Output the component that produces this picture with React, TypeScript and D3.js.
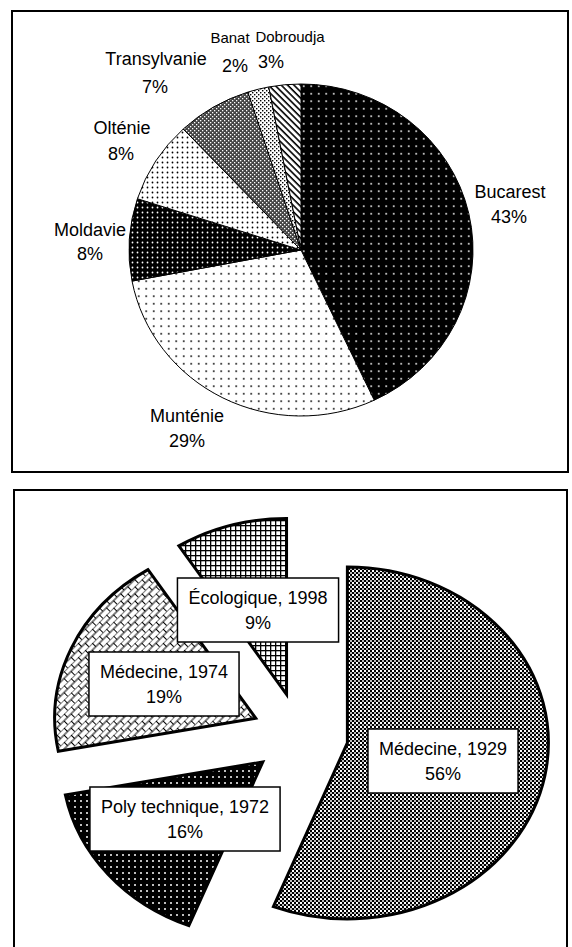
import React, { useRef, useEffect } from "react";
import * as d3 from "d3";

// top chart: regions
const regions = ["Bucarest", "Munténie", "Moldavie", "Olténie", "Transylvanie", "Banat", "Dobroudja"];
const regionShares = [43, 29, 8, 8, 7, 2, 3];
const regionFills = ["dotsBlack", "dotsWhite", "denseBlack", "denseWhite", "darkGrid", "lightGrid", "stripes"];

// bottom chart: faculties
const faculties = ["Médecine, 1929", "Poly technique, 1972", "Médecine, 1974", "Écologique, 1998"];
const facultyShares = [56, 16, 19, 9];
const facultyFills = ["checker", "dotsPoly", "brick", "grid"];

// label centres (layout only)
const regionLabelPos = [[510, 192], [187, 416], [90, 230], [122, 128], [156, 59], [230, 38], [290, 37]];
const regionPctPos = [[509, 217], [187, 441], [90, 254], [121, 154], [155, 87], [235, 66], [271, 62]];
const regionLabelSize = [18, 18, 18, 18, 18, 15, 15];
const facultyLabelPos = [[443, 761], [185, 819], [164, 684], [258, 610]];

const FONT = "'Liberation Sans', Arial, sans-serif";

function slicePath(cx: number, cy: number, rx: number, ry: number, a0: number, a1: number) {
  const pt = (a: number) => [cx + rx * Math.sin(a), cy - ry * Math.cos(a)];
  const [x0, y0] = pt(a0);
  const [x1, y1] = pt(a1);
  const large = a1 - a0 > Math.PI ? 1 : 0;
  return `M${cx},${cy}L${x0},${y0}A${rx},${ry} 0 ${large} 1 ${x1},${y1}Z`;
}

export default function App() {
  const ref = useRef<SVGSVGElement>(null);

  useEffect(() => {
    if (!ref.current) return;
    const svg = d3.select(ref.current);
    svg.selectAll("*").remove();

    // patterns
    const defs = svg.append("defs");
    const pat = (id: string, w: number, h: number, bg: string) => {
      const p = defs.append("pattern").attr("id", id).attr("patternUnits", "userSpaceOnUse")
        .attr("width", w).attr("height", h);
      p.append("rect").attr("width", w).attr("height", h).attr("fill", bg);
      return p;
    };
    let p = pat("dotsBlack", 7.5, 7.5, "#000");
    p.append("circle").attr("cx", 3.75).attr("cy", 3.75).attr("r", 0.9).attr("fill", "#fff");
    p = pat("dotsWhite", 7.5, 7.5, "#fff");
    p.append("circle").attr("cx", 3.75).attr("cy", 3.75).attr("r", 0.9).attr("fill", "#000");
    p = pat("denseBlack", 5, 5, "#000");
    p.append("circle").attr("cx", 2.5).attr("cy", 2.5).attr("r", 0.9).attr("fill", "#fff");
    p = pat("denseWhite", 5, 5, "#fff");
    p.append("circle").attr("cx", 2.5).attr("cy", 2.5).attr("r", 0.9).attr("fill", "#000");
    p = pat("darkGrid", 4, 4, "#444");
    p.append("rect").attr("x", 0).attr("y", 0).attr("width", 1.3).attr("height", 1.3).attr("fill", "#fff");
    p.append("rect").attr("x", 2).attr("y", 2).attr("width", 1.3).attr("height", 1.3).attr("fill", "#fff");
    p = pat("lightGrid", 4, 4, "#fff");
    p.append("rect").attr("x", 0).attr("y", 0).attr("width", 1.4).attr("height", 1.4).attr("fill", "#000");
    p.append("rect").attr("x", 2).attr("y", 2).attr("width", 1.4).attr("height", 1.4).attr("fill", "#000");
    p = pat("stripes", 4.5, 4.5, "#fff").attr("patternTransform", "rotate(45)");
    p.append("rect").attr("width", 4.5).attr("height", 1.6).attr("fill", "#000");

    p = pat("checker", 4, 4, "#fff");
    p.append("rect").attr("width", 2).attr("height", 2).attr("fill", "#000");
    p.append("rect").attr("x", 2).attr("y", 2).attr("width", 2).attr("height", 2).attr("fill", "#000");
    p.append("rect").attr("x", 2).attr("y", 0).attr("width", 2).attr("height", 2).attr("fill", "#bbb");
    p = pat("dotsPoly", 6, 6, "#000");
    p.append("circle").attr("cx", 3).attr("cy", 3).attr("r", 1).attr("fill", "#fff");
    p = pat("grid", 5, 5, "#fff");
    p.append("rect").attr("width", 5).attr("height", 1.3).attr("fill", "#000");
    p.append("rect").attr("width", 1.3).attr("height", 5).attr("fill", "#000");
    p = pat("brick", 10, 10, "#fff").attr("patternTransform", "rotate(-45)");
    p.append("path").attr("d", "M0,0H10M0,5H10M0.5,0V5M5.5,5V10").attr("stroke", "#000").attr("stroke-width", 1).attr("fill", "none");

    // frames
    svg.append("rect").attr("x", 12).attr("y", 11).attr("width", 556).attr("height", 461)
      .attr("fill", "none").attr("stroke", "#000").attr("stroke-width", 2);
    svg.append("rect").attr("x", 14).attr("y", 490).attr("width", 553).attr("height", 470)
      .attr("fill", "none").attr("stroke", "#000").attr("stroke-width", 2);

    const pie = d3.pie<number>().sort(null).value((d) => d);

    // top pie
    const top = { cx: 301, cy: 250, rx: 172, ry: 166 };
    const arcsTop = pie(regionShares);
    svg.append("g").selectAll("path").data(arcsTop).join("path")
      .attr("d", (d) => slicePath(top.cx, top.cy, top.rx, top.ry, d.startAngle, d.endAngle))
      .attr("fill", (d, i) => `url(#${regionFills[i]})`)
      .attr("stroke", "#000").attr("stroke-width", 1).attr("stroke-linejoin", "round");

    const tl = svg.append("g").attr("font-family", FONT).attr("text-anchor", "middle").attr("fill", "#000");
    regions.forEach((name, i) => {
      tl.append("text").attr("x", regionLabelPos[i][0]).attr("y", regionLabelPos[i][1])
        .attr("dy", "0.36em").attr("font-size", regionLabelSize[i]).text(name);
      tl.append("text").attr("x", regionPctPos[i][0]).attr("y", regionPctPos[i][1])
        .attr("dy", "0.36em").attr("font-size", 18).text(`${regionShares[i]}%`);
    });

    // bottom exploded pie
    const bot = { cx: 300, cy: 735, rx: 201, ry: 176, explode: 0.24 };
    const arcsBot = pie(facultyShares);
    svg.append("g").selectAll("path").data(arcsBot).join("path")
      .attr("d", (d) => {
        const mid = (d.startAngle + d.endAngle) / 2;
        const ox = bot.cx + bot.explode * bot.rx * Math.sin(mid);
        const oy = bot.cy - bot.explode * bot.ry * Math.cos(mid);
        return slicePath(ox, oy, bot.rx, bot.ry, d.startAngle, d.endAngle);
      })
      .attr("fill", (d, i) => `url(#${facultyFills[i]})`)
      .attr("stroke", "#000").attr("stroke-width", 3).attr("stroke-linejoin", "miter");

    const bl = svg.append("g").attr("font-family", FONT).attr("font-size", 18).attr("text-anchor", "middle");
    faculties.forEach((name, i) => {
      const [x, y] = facultyLabelPos[i];
      const g = bl.append("g");
      const rect = g.append("rect").attr("fill", "#fff").attr("stroke", "#000").attr("stroke-width", 1.5);
      const t1 = g.append("text").attr("x", x).attr("y", y - 12).attr("dy", "0.36em").text(name);
      g.append("text").attr("x", x).attr("y", y + 13).attr("dy", "0.36em").text(`${facultyShares[i]}%`);
      const w = (t1.node() as SVGTextElement).getComputedTextLength() + 22;
      rect.attr("x", x - w / 2).attr("y", y - 32).attr("width", w).attr("height", 64);
    });
  }, []);

  return (
    <svg ref={ref} width={572} height={947}
      style={{ position: "absolute", left: 0, top: 0, background: "#fff" }} />
  );
}
